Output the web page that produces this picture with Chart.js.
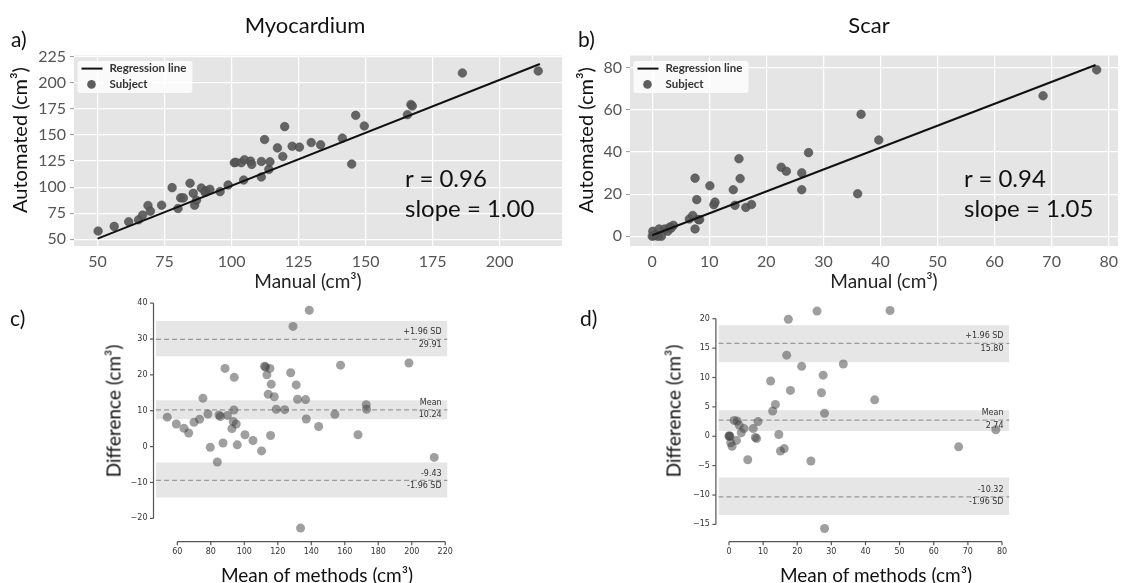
<!DOCTYPE html>
<html><head><meta charset="utf-8">
<script src="https://cdn.jsdelivr.net/npm/chart.js@4.4.1/dist/chart.umd.min.js"></script>
<style>
html,body{margin:0;padding:0;background:#fff;overflow:hidden;width:1123px;height:583px;}
.c{position:absolute;}
.t{position:absolute;font-family:Lato,"Open Sans",sans-serif;color:#111;white-space:nowrap;line-height:1;}
.cc{transform:translate(-50%,-50%);}
.rot{transform:translate(-50%,-50%) rotate(-90deg);}
.lm{transform:translate(0,-50%);}
</style></head><body>
<div class="c" style="left:0;top:0;width:567px;height:300px"><canvas id="ca" width="567" height="300"></canvas></div>
<div class="c" style="left:567px;top:0;width:556px;height:300px"><canvas id="cb" width="556" height="300"></canvas></div>
<div class="c" style="left:0;top:295px;width:567px;height:288px"><canvas id="cc" width="567" height="288"></canvas></div>
<div class="c" style="left:567px;top:295px;width:556px;height:288px"><canvas id="cd" width="556" height="288"></canvas></div>

<div class="t cc" style="left:305px;top:25px;font-size:22px">Myocardium</div>
<div class="t cc" style="left:869px;top:25px;font-size:22px">Scar</div>
<div class="t lm" style="left:11px;top:38px;font-size:21px">a)</div>
<div class="t lm" style="left:578px;top:38px;font-size:21px">b)</div>
<div class="t lm" style="left:10px;top:317px;font-size:21px">c)</div>
<div class="t lm" style="left:580px;top:317px;font-size:21px">d)</div>
<div class="t rot" style="left:19px;top:140px;font-size:20px">Automated (cm³)</div>
<div class="t rot" style="left:585px;top:140px;font-size:20px">Automated (cm³)</div>
<div class="t cc" style="left:308px;top:280px;font-size:19px;color:#222">Manual (cm³)</div>
<div class="t cc" style="left:884px;top:280px;font-size:19px;color:#222">Manual (cm³)</div>
<div class="t lm" style="left:405px;top:178px;font-size:24px">r = 0.96</div>
<div class="t lm" style="left:405px;top:208px;font-size:24px">slope = 1.00</div>
<div class="t lm" style="left:964px;top:178px;font-size:24px">r = 0.94</div>
<div class="t lm" style="left:964px;top:208px;font-size:24px">slope = 1.05</div>
<div class="t rot" style="left:113px;top:411px;font-size:19px">Difference (cm³)</div>
<div class="t rot" style="left:673px;top:411px;font-size:19px">Difference (cm³)</div>
<div class="t cc" style="left:317px;top:574px;font-size:19px">Mean of methods (cm³)</div>
<div class="t cc" style="left:876px;top:574px;font-size:19px">Mean of methods (cm³)</div>

<script>
// ---------- data ----------
const myoManual = [50.2,56.2,61.6,65.3,66.8,68.8,69.7,73.9,77.8,80.0,81.0,82.0,84.5,85.7,86.2,86.9,88.7,90.4,90.1,91.9,95.7,98.7,101.0,101.6,103.6,104.8,107.1,107.5,104.5,111.1,111.1,112.3,113.9,114.3,117.1,119.1,119.8,122.6,125.3,129.7,133.2,141.3,144.8,146.3,149.5,165.6,166.9,167.4,186.1,214.4];
const myoAutomated = [57.9,62.4,66.8,68.7,73.2,82.4,77.0,82.7,99.5,79.5,89.7,89.7,103.7,94.1,82.7,87.5,99.2,96.4,95.1,97.9,95.7,102.1,123.4,123.8,123.4,126.2,124.9,121.8,106.8,124.6,109.7,145.6,117.0,124.3,137.6,129.4,158.0,139.2,138.3,142.7,140.5,146.9,122.1,168.8,158.6,169.4,179.2,177.7,209.4,211.3];
const myoRegX = [50, 215];
const myoRegY = [50.7, 218];

const scarManual = [0,0.1,0.7,1.2,1.6,2.2,2.7,3.1,3.7,6.5,7.1,7.5,7.5,7.8,8.1,10.1,10.8,11.0,14.2,14.5,15.2,15.4,16.4,17.4,22.6,23.5,26.2,26.2,27.4,36.0,36.6,39.7,68.5,77.9,1.0,8.3,3.3,0.3];
const scarAutomated = [0,2.4,0.8,3.5,0,3.5,2.4,4.4,5.2,8.2,9.9,3.5,27.6,17.4,7.9,24.0,15.0,16.2,22.1,14.7,36.8,27.4,13.7,15.1,32.8,30.9,30.1,22.1,39.7,20.2,57.9,45.7,66.7,79.0,0.0,7.9,3.9,0.3];
const scarRegX = [0, 77.7];
const scarRegY = [0.5, 81.3];

const myoMean = [54.0,59.4,64.0,66.8,70.0,73.3,75.3,78.3,79.7,83.9,84.9,85.7,87.3,88.5,89.9,92.6,93.4,93.8,94.0,95.2,95.8,100.4,105.2,110.3,112.1,112.7,113.5,114.3,115.3,115.7,116.1,117.9,119.1,124.1,127.7,129.1,131.0,131.8,133.6,136.6,137.0,138.8,144.4,154.1,157.5,167.9,172.8,173.0,198.3,213.4];
const myoDiff = [8.2,6.3,5.1,3.8,6.8,7.6,13.5,9.1,-0.2,-4.3,8.8,8.4,1.0,21.8,8.7,5.0,7.0,10.2,19.3,6.3,0.5,3.3,1.7,-1.2,22.4,22.2,20.0,14.6,21.8,3.1,17.4,13.9,10.4,10.3,20.6,33.5,17.2,13.2,-22.7,13.1,7.7,38.0,5.6,9.0,22.7,3.3,11.7,10.4,23.3,-3.0];
const myoLimits = [29.91, 10.24, -9.43];
const myoLimitTop = ['+1.96 SD', 'Mean', '-9.43'];
const myoLimitBottom = ['29.91', '10.24', '-1.96 SD'];
const myoBandLow = [25.2, 7.6, -14.2];
const myoBandHigh = [35.0, 12.9, -4.4];

const scarMean = [0,0.1,0.3,0.5,0.9,1.5,2.2,2.4,3.0,3.6,4.4,5.5,7.1,7.7,8.1,8.5,12.2,12.8,13.6,14.6,15.1,16.2,16.9,17.4,18.0,21.3,24.0,25.8,27.1,27.6,28.0,28.0,33.5,42.7,47.2,67.3,78.2];
const scarDiff = [0,0.1,0,-1.1,-1.7,2.7,-0.7,2.6,1.9,0.6,1.3,-4.0,1.3,-0.2,-0.4,2.5,9.4,4.3,5.4,0.3,-2.5,-2.1,13.8,19.9,7.8,11.9,-4.2,21.3,7.4,10.4,3.9,-15.7,12.3,6.2,21.4,-1.8,1.1];
const scarLimits = [15.80, 2.74, -10.32];
const scarLimitTop = ['+1.96 SD', 'Mean', '-10.32'];
const scarLimitBottom = ['15.80', '2.74', '-1.96 SD'];
const scarBandLow = [12.6, 0.9, -13.4];
const scarBandHigh = [18.9, 4.43, -7.0];

const myoXTicks = [50,75,100,125,150,175,200];
const myoYTicks = [50,75,100,125,150,175,200,225];
const scarXTicks = [0,10,20,30,40,50,60,70,80];
const scarYTicks = [0,20,40,60,80];
const baMyoXTicks = [60,80,100,120,140,160,180,200,220];
const baMyoYTicks = [-20,-10,0,10,20,30,40];
const baScarXTicks = [0,10,20,30,40,50,60,70,80];
const baScarYTicks = [-15,-10,-5,0,5,10,15,20];

// ---------- helpers ----------
const pts = (xs, ys) => xs.map((x, i) => ({x: x, y: ys[i]}));
function fixSize(size) {
  return s => {
    if (s.isHorizontal()) s.height = size; else s.width = size;
    s.paddingLeft = 0; s.paddingRight = 0; s.paddingTop = 0; s.paddingBottom = 0;
  };
}
const setTicks = arr => s => { s.ticks = arr.map(v => ({value: v})); };

const plotBg = {
  id: 'plotBg',
  beforeDraw(chart, args, o) {
    const {ctx, chartArea: a} = chart;
    ctx.save(); ctx.fillStyle = o.color;
    ctx.fillRect(a.left, a.top, a.right - a.left, a.bottom - a.top);
    ctx.restore();
  }
};
const legendBox = {
  id: 'legendBox',
  afterDatasetsDraw(chart, args, o) {
    const {ctx, chartArea: a} = chart;
    const x = a.left + 3.5, y = a.top + 5.5, w = 115, h = 32;
    ctx.save();
    ctx.fillStyle = 'rgba(255,255,255,0.8)';
    ctx.beginPath(); ctx.roundRect(x, y, w, h, 3); ctx.fill();
    ctx.strokeStyle = '#111'; ctx.lineWidth = 2;
    ctx.beginPath(); ctx.moveTo(x + 4, y + 7.6); ctx.lineTo(x + 25, y + 7.6); ctx.stroke();
    ctx.fillStyle = 'rgba(85,85,85,0.95)';
    ctx.beginPath(); ctx.arc(x + 14, y + 23.4, 4.3, 0, Math.PI * 2); ctx.fill();
    ctx.fillStyle = '#333'; ctx.font = 'bold 11.5px Lato'; ctx.textBaseline = 'middle'; ctx.textAlign = 'left';
    const ds = chart.data.datasets;
    ctx.fillText(ds[1].label, x + 32, y + 7.6);
    ctx.fillText(ds[0].label, x + 32, y + 23);
    ctx.restore();
  }
};
const spines = {
  id: 'spines',
  afterDraw(chart) {
    const {ctx, chartArea: a, scales: {x, y}} = chart;
    ctx.save(); ctx.strokeStyle = '#555'; ctx.lineWidth = 1.2;
    const sx = a.left - 2.5;
    const yt = y.ticks.map(t => y.getPixelForValue(t.value));
    ctx.beginPath(); ctx.moveTo(sx, Math.min(...yt)); ctx.lineTo(sx, Math.max(...yt)); ctx.stroke();
    yt.forEach(p => { ctx.beginPath(); ctx.moveTo(sx - 3.5, p); ctx.lineTo(sx, p); ctx.stroke(); });
    const sy = a.bottom;
    const xt = x.ticks.map(t => x.getPixelForValue(t.value));
    ctx.beginPath(); ctx.moveTo(Math.min(...xt), sy); ctx.lineTo(Math.max(...xt), sy); ctx.stroke();
    xt.forEach(p => { ctx.beginPath(); ctx.moveTo(p, sy); ctx.lineTo(p, sy + 3.5); ctx.stroke(); });
    ctx.restore();
  }
};
const limitLabels = {
  id: 'limitLabels',
  afterDatasetDraw(chart, args, o) {
    if (!chart.data.datasets[args.index].lastLimit) return;
    const {ctx, chartArea: a, scales: {y}} = chart;
    ctx.save(); ctx.fillStyle = '#333'; ctx.font = '8px "DejaVu Sans"';
    ctx.textAlign = 'right'; ctx.textBaseline = 'middle';
    o.values.forEach((v, i) => {
      const p = y.getPixelForValue(v);
      ctx.fillText(o.top[i], a.right - 6, p - 7);
      ctx.fillText(o.bottom[i], a.right - 6, p + 5.5);
    });
    ctx.restore();
  }
};

function scatterPanel(id, xs, ys, rx, ry, xTicks, yTicks, xr, yr, pad, yW, xH) {
  new Chart(document.getElementById(id), {
    type: 'scatter',
    data: { datasets: [
      { label: 'Subject', data: pts(xs, ys), backgroundColor: 'rgba(85,85,85,0.9)', borderColor: 'rgba(70,70,70,0.9)', borderWidth: 0.6, pointRadius: 4.3, order: 1 },
      { type: 'line', label: 'Regression line', data: pts(rx, ry), borderColor: '#111', borderWidth: 2, pointRadius: 0, fill: false, order: 0 }
    ]},
    options: {
      responsive: false, animation: false, devicePixelRatio: 1, events: [],
      layout: { padding: pad },
      plugins: { legend: {display: false}, tooltip: {enabled: false}, plotBg: {color: '#e5e5e5'} },
      scales: {
        x: { type: 'linear', min: xr[0], max: xr[1], afterBuildTicks: setTicks(xTicks), afterFit: fixSize(xH),
             grid: { color: '#ffffff', lineWidth: 1.2, drawTicks: false }, border: {display: false},
             ticks: { color: '#555', font: {family: 'Lato', size: 16}, padding: 6 } },
        y: { type: 'linear', min: yr[0], max: yr[1], afterBuildTicks: setTicks(yTicks), afterFit: fixSize(yW),
             grid: { color: '#ffffff', lineWidth: 1.2, drawTicks: true, tickLength: 4, tickColor: '#999', tickWidth: 1 }, border: {display: false},
             ticks: { color: '#555', font: {family: 'Lato', size: 16}, padding: 4 } }
      }
    },
    plugins: [plotBg, legendBox]
  });
}

function baPanel(id, xs, ys, limits, lo, hi, tTop, tBot, xTicks, yTicks, xr, yr, pad, yW, xH) {
  const ds = [{ label: 'Subject', data: pts(xs, ys), backgroundColor: 'rgba(64,64,64,0.5)', borderWidth: 0, pointRadius: 4.5, order: 0 }];
  lo.forEach((l, i) => ds.push({ type: 'line', label: 'band', data: [{x: xr[0], y: hi[i]}, {x: xr[1], y: hi[i]}],
    fill: {value: l}, backgroundColor: '#e6e6e6', borderWidth: 0, borderColor: 'rgba(0,0,0,0)', pointRadius: 0, order: 3 }));
  limits.forEach((v, i) => ds.push({ type: 'line', label: 'limit', data: [{x: xr[0], y: v}, {x: xr[1], y: v}],
    borderColor: '#9a9a9a', borderWidth: 1.3, borderDash: [5, 3], pointRadius: 0, fill: false, order: 2, lastLimit: i === limits.length - 1 }));
  const fmt = v => (v < 0 ? '\u2212' + Math.abs(v) : String(v));
  new Chart(document.getElementById(id), {
    type: 'scatter',
    data: { datasets: ds },
    options: {
      responsive: false, animation: false, devicePixelRatio: 1, events: [],
      layout: { padding: pad },
      plugins: { legend: {display: false}, tooltip: {enabled: false},
                 limitLabels: { values: limits, top: tTop, bottom: tBot } },
      scales: {
        x: { type: 'linear', min: xr[0], max: xr[1], afterBuildTicks: setTicks(xTicks), afterFit: fixSize(xH),
             grid: { display: false, drawTicks: false }, border: {display: false},
             ticks: { color: '#333', font: {family: 'DejaVu Sans', size: 8}, padding: 5, callback: fmt } },
        y: { type: 'linear', min: yr[0], max: yr[1], afterBuildTicks: setTicks(yTicks), afterFit: fixSize(yW),
             grid: { display: false, drawTicks: false }, border: {display: false},
             ticks: { color: '#333', font: {family: 'DejaVu Sans', size: 8}, padding: 8.5, callback: fmt } }
      }
    },
    plugins: [spines, limitLabels]
  });
}

scatterPanel('ca', myoManual, myoAutomated, myoRegX, myoRegY, myoXTicks, myoYTicks,
  [41.2, 223.3], [43.6, 226.1], {left: 0, top: 55.5, right: 2, bottom: 0}, 74, 54);
scatterPanel('cb', scarManual, scarAutomated, scarRegX, scarRegY, scarXTicks, scarYTicks,
  [-3.9, 81.65], [-4.6, 85.8], {left: 0, top: 55.5, right: 0, bottom: 0}, 63, 54);
baPanel('cc', myoMean, myoDiff, myoLimits, myoBandLow, myoBandHigh, myoLimitTop, myoLimitBottom, baMyoXTicks, baMyoYTicks,
  [47.28, 221.4], [-26.5, 41.0], {left: 0, top: 2.3, right: 119.4, bottom: 0}, 156, 41.3);
baPanel('cd', scarMean, scarDiff, scarLimits, scarBandLow, scarBandHigh, scarLimitTop, scarLimitBottom, baScarXTicks, baScarYTicks,
  [-3.1, 82.2], [-17.94, 23.27], {left: 0, top: 2.3, right: 113.5, bottom: 0}, 151.4, 41.3);
</script>
</body></html>
